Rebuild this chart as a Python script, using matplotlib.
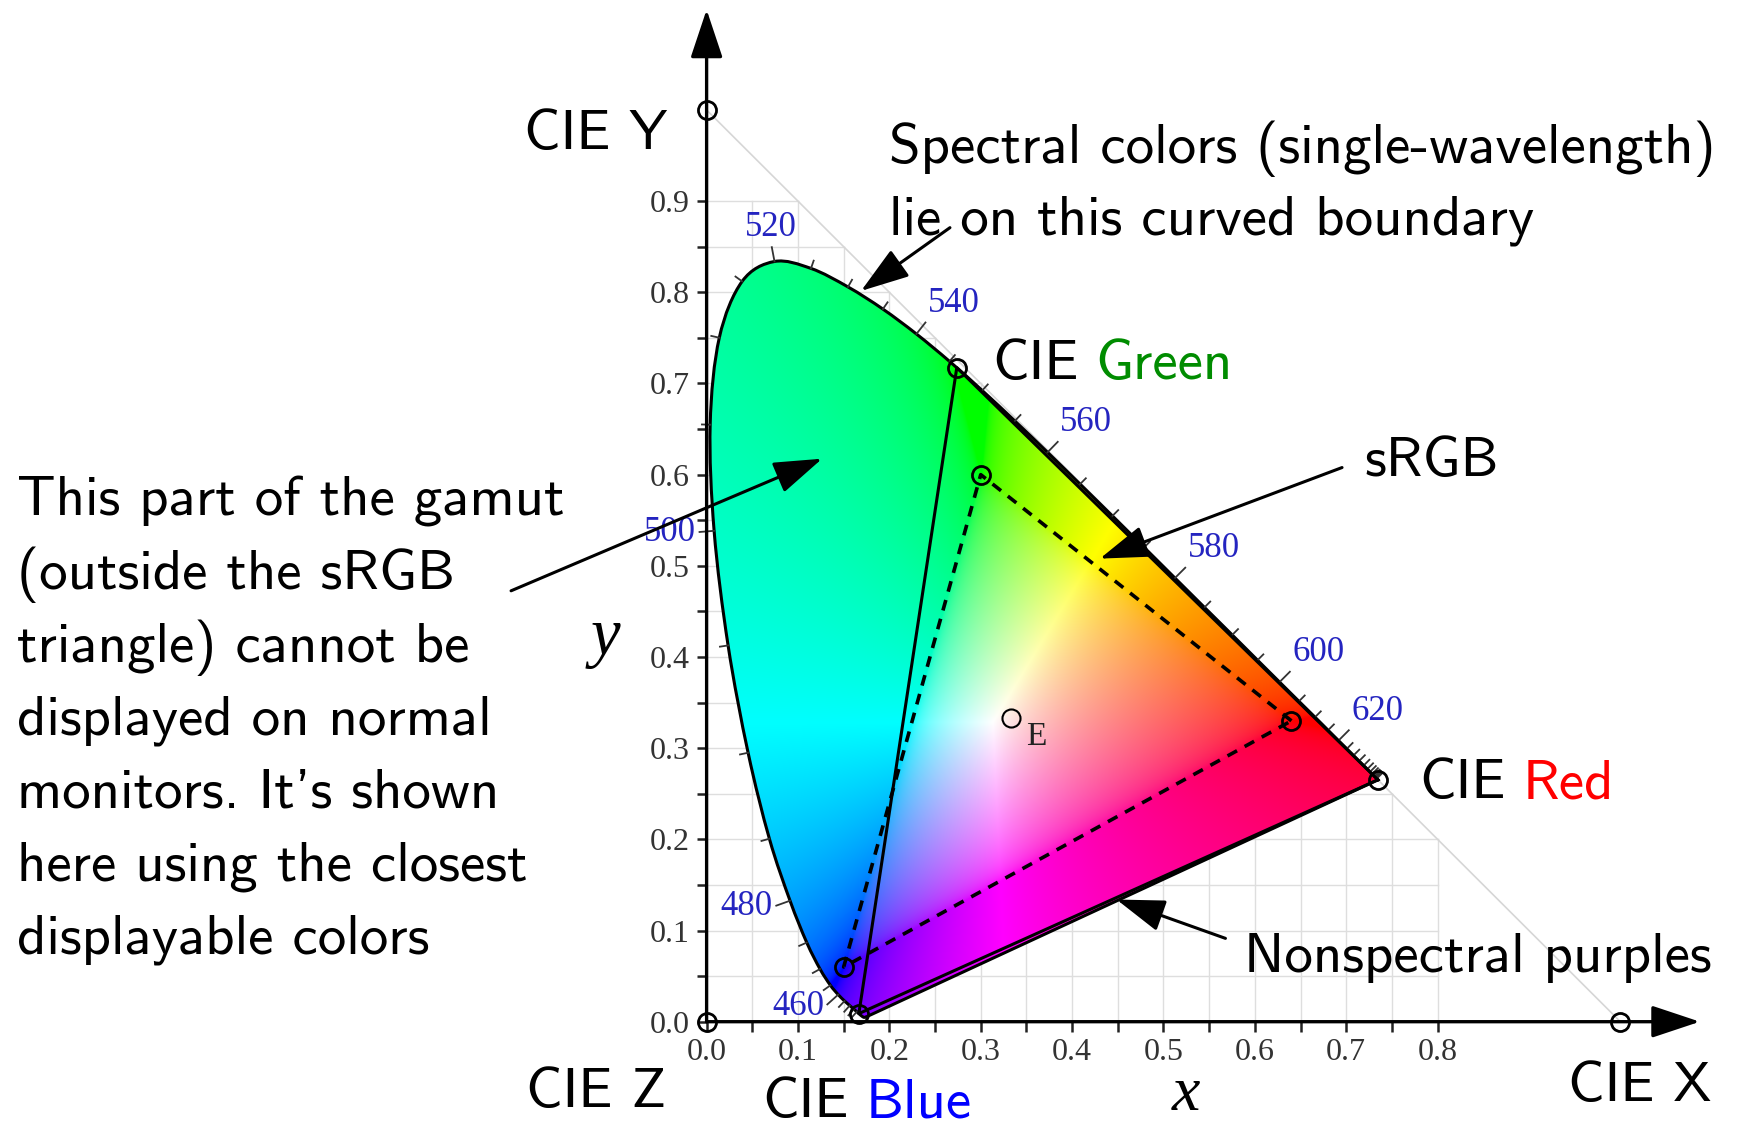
import numpy as np
import matplotlib.pyplot as plt
from matplotlib.path import Path
from matplotlib.patches import PathPatch

# CIE 1931 2-degree spectral locus, chromaticity x/y every 5 nm (380-700 nm)
wavelengths = np.arange(380, 705, 5)
locus_x = np.array([
    0.1741, 0.1740, 0.1738, 0.1736, 0.1733, 0.1730, 0.1726, 0.1721, 0.1714, 0.1703,
    0.1689, 0.1669, 0.1644, 0.1611, 0.1566, 0.1510, 0.1440, 0.1355, 0.1241, 0.1096,
    0.0913, 0.0687, 0.0454, 0.0235, 0.0082, 0.0039, 0.0139, 0.0389, 0.0743, 0.1142,
    0.1547, 0.1929, 0.2296, 0.2658, 0.3016, 0.3373, 0.3731, 0.4087, 0.4441, 0.4788,
    0.5125, 0.5448, 0.5752, 0.6029, 0.6270, 0.6482, 0.6658, 0.6801, 0.6915, 0.7006,
    0.7079, 0.7140, 0.7190, 0.7230, 0.7260, 0.7283, 0.7300, 0.7311, 0.7320, 0.7327,
    0.7334, 0.7340, 0.7344, 0.7346, 0.7347])
locus_y = np.array([
    0.0050, 0.0050, 0.0049, 0.0049, 0.0048, 0.0048, 0.0048, 0.0048, 0.0051, 0.0058,
    0.0069, 0.0086, 0.0109, 0.0138, 0.0177, 0.0227, 0.0297, 0.0399, 0.0578, 0.0868,
    0.1327, 0.2007, 0.2950, 0.4127, 0.5384, 0.6548, 0.7502, 0.8120, 0.8338, 0.8262,
    0.8059, 0.7816, 0.7543, 0.7243, 0.6923, 0.6589, 0.6245, 0.5896, 0.5547, 0.5202,
    0.4866, 0.4544, 0.4242, 0.3965, 0.3725, 0.3514, 0.3340, 0.3197, 0.3083, 0.2993,
    0.2920, 0.2859, 0.2809, 0.2770, 0.2740, 0.2717, 0.2700, 0.2689, 0.2680, 0.2673,
    0.2666, 0.2660, 0.2656, 0.2654, 0.2653])

label_wavelengths = [460, 480, 500, 520, 540, 560, 580, 600, 620]
tick_wavelengths = np.arange(440, 685, 5)

# primaries: red, green, blue
cie_rgb_x = [0.7347, 0.2738, 0.1666]
cie_rgb_y = [0.2653, 0.7174, 0.0089]
srgb_x = [0.64, 0.30, 0.15]
srgb_y = [0.33, 0.60, 0.06]
white_e = (1 / 3, 1 / 3)
# unit points of X, Y, Z
unit_x = [1.0, 0.0, 0.0]
unit_y = [0.0, 1.0, 0.0]

x_ticks = [0.0, 0.1, 0.2, 0.3, 0.4, 0.5, 0.6, 0.7, 0.8]
y_ticks = [0.0, 0.1, 0.2, 0.3, 0.4, 0.5, 0.6, 0.7, 0.8, 0.9]
x_minor = [0.05, 0.15, 0.25, 0.35, 0.45, 0.55, 0.65, 0.75]
y_minor = [0.05, 0.15, 0.25, 0.35, 0.45, 0.55, 0.65, 0.75, 0.85]

note_lines = ["This part of the gamut", "(outside the sRGB", "triangle) cannot be",
              "displayed on normal", "monitors. It's shown",
              "here using the closest", "displayable colors"]

SANS = 'cmss10'
plt.rcParams['font.family'] = 'Liberation Serif'

fig = plt.figure(figsize=(17.42, 11.25), dpi=100)
ax = fig.add_axes([0, 0, 1, 1])
ax.set_xlim(-0.7733, 1.1331)
ax.set_ylim(-0.1133, 1.1206)

# light grid under the X+Y<=1 diagonal
for g in np.arange(1, 17) * 0.05:
    ax.plot([g, g], [0, min(1 - g, 0.9)], color='#dedede', lw=1.0, zorder=0.5)
for g in np.arange(1, 19) * 0.05:
    ax.plot([0, min(1 - g, 0.8)], [g, g], color='#dedede', lw=1.0, zorder=0.5)
ax.plot([0, 1], [1, 0], color='#d6d6d6', lw=1.2, zorder=0.5)

# smooth closed outline through the locus samples
pts = np.column_stack([locus_x, locus_y])
n = len(pts)
verts = [pts[0]]
codes = [Path.MOVETO]
for i in range(n - 1):
    p0, p1, p2, p3 = pts[max(i - 1, 0)], pts[i], pts[i + 1], pts[min(i + 2, n - 1)]
    verts += [p1 + (p2 - p0) / 6, p2 - (p3 - p1) / 6, p2]
    codes += [Path.CURVE4] * 3
verts.append(pts[0])
codes.append(Path.CLOSEPOLY)
locus_path = Path(verts, codes)

# chromaticity colours: xyY (Y=1) -> linear sRGB, partly desaturated toward white,
# remaining negatives clipped, scaled to the brightest channel
gx, gy = np.meshgrid(np.linspace(0, 0.75, 751), np.linspace(0.0, 0.85, 851))
gys = np.maximum(gy, 1e-4)
xyz = np.stack([gx / gys, np.ones_like(gx), (1 - gx - gy) / gys])
m = np.array([[3.2406, -1.5372, -0.4986],
              [-0.9689, 1.8758, 0.0415],
              [0.0557, -0.2040, 1.0570]])
rgb = np.einsum('ij,jkl->kli', m, xyz)
rgb -= 0.5 * np.minimum(rgb.min(axis=-1, keepdims=True), 0)
rgb = np.clip(rgb, 0, None)
rgb /= np.maximum(rgb.max(axis=-1, keepdims=True), 1e-9)
rgb = np.where(rgb <= 0.0031308, 12.92 * rgb, 1.055 * rgb ** (1 / 2.4) - 0.055)
img = ax.imshow(np.clip(rgb, 0, 1), extent=(0, 0.75, 0, 0.85), origin='lower',
                interpolation='bilinear', zorder=1, aspect='auto')
clip = PathPatch(locus_path, transform=ax.transData, fc='none', ec='none')
ax.add_patch(clip)
img.set_clip_path(clip)
ax.add_patch(PathPatch(locus_path, fc='none', ec='black', lw=2.2, zorder=3))

# wavelength ticks and labels along the locus
tan = np.gradient(pts, axis=0)
tan /= np.maximum(np.linalg.norm(tan, axis=1, keepdims=True), 1e-9)
normal = np.column_stack([-tan[:, 1], tan[:, 0]])
for wl in tick_wavelengths:
    k = int(np.where(wavelengths == wl)[0][0])
    length = 0.016 if wl in label_wavelengths else 0.009
    p, nv = pts[k], normal[k]
    ax.plot([p[0], p[0] + nv[0] * length], [p[1], p[1] + nv[1] * length],
            color='#333333', lw=1.3, zorder=3)
    if wl in label_wavelengths:
        q = p + nv * 0.02
        ha = 'left' if nv[0] > 0.3 else ('right' if nv[0] < -0.3 else 'center')
        va = 'bottom' if nv[1] > 0.6 else 'center'
        ax.text(q[0], q[1], str(wl), ha=ha, va=va, fontsize=25, color='#2424c0', zorder=4)

# CIE RGB triangle and sRGB triangle
ax.plot(cie_rgb_x + cie_rgb_x[:1], cie_rgb_y + cie_rgb_y[:1], color='black', lw=2.2, zorder=4)
ax.plot(srgb_x + srgb_x[:1], srgb_y + srgb_y[:1], color='black', lw=2.6,
        ls=(0, (3, 2.4)), zorder=4)

mk = dict(ls='none', marker='o', ms=13, mfc='none', mec='black', mew=2.0, zorder=6)
ax.plot(cie_rgb_x, cie_rgb_y, **mk)
ax.plot(srgb_x, srgb_y, **mk)
ax.plot(unit_x, unit_y, **mk)
ax.plot([white_e[0]], [white_e[1]], **{**mk, 'mew': 1.5})
ax.text(0.361, 0.312, 'E', ha='center', va='center', fontsize=24, color='#222222', zorder=6)

# axes drawn as arrows from the origin; spines only carry the ticks
for side in ('top', 'right', 'left', 'bottom'):
    ax.spines[side].set_visible(False)
ax.spines['left'].set_position(('data', 0))
ax.spines['bottom'].set_position(('data', 0))
axis_arrow = dict(arrowstyle='-|>,head_length=1.5,head_width=0.5', mutation_scale=20,
                  lw=2.4, color='black', shrinkA=0, shrinkB=0)
ax.annotate('', xy=(1.087, 0), xytext=(0, 0), arrowprops=axis_arrow, zorder=5)
ax.annotate('', xy=(0, 1.11), xytext=(0, 0), arrowprops=axis_arrow, zorder=5)

ax.set_xticks(x_ticks, [f'{v:.1f}' for v in x_ticks])
ax.set_yticks(y_ticks, [f'{v:.1f}' for v in y_ticks])
ax.set_xticks(x_minor, minor=True)
ax.set_yticks(y_minor, minor=True)
ax.tick_params(which='both', direction='out', length=7, width=1.8, color='#222222',
               labelsize=23, labelcolor='#333333', pad=5)

ax.text(-0.1106, 0.402, 'y', fontsize=48, style='italic', ha='center', va='baseline')
ax.text(0.525, -0.097, 'x', fontsize=46, style='italic', ha='center', va='baseline')

# annotations
FS = 41
tk = dict(fontsize=FS, family=SANS, va='baseline', zorder=7)
for i, line in enumerate(note_lines):
    ax.text(-0.7545, 0.5547 - i * 0.0799, line, ha='left', **tk)
ax.text(-0.0433, 0.957, 'CIE Y', ha='right', **tk)
ax.text(-0.198, -0.094, 'CIE Z', ha='left', **tk)
ax.text(0.9424, -0.0875, 'CIE X', ha='left', **tk)
ax.text(0.1993, 0.942, 'Spectral colors (single-wavelength)', ha='left', **tk)
ax.text(0.1993, 0.863, 'lie on this curved boundary', ha='left', **tk)
ax.text(0.7195, 0.599, 'sRGB', ha='left', **tk)
ax.text(0.588, 0.0547, 'Nonspectral purples', ha='left', **tk)
for x0, y0, word, col in [(0.3125, 0.7046, 'Green', '#008c00'),
                          (0.78, 0.245, 'Red', '#ff0000'),
                          (0.0606, -0.105, 'Blue', '#0000ff')]:
    t = ax.text(x0, y0, 'CIE', ha='left', **tk)
    ax.annotate(word, xy=(1, 0), xycoords=t, xytext=(FS * 0.3, 0),
                textcoords='offset points', ha='left', va='bottom',
                fontsize=FS, family=SANS, color=col, zorder=7)

arrow = dict(arrowstyle='-|>,head_length=1.5,head_width=0.5', mutation_scale=20,
             lw=2.2, color='black', shrinkA=0, shrinkB=0)
for head, tail in [((0.169, 0.8015), (0.2663, 0.8709)),
                   ((0.4304, 0.5079), (0.6954, 0.6078)),
                   ((0.1264, 0.6175), (-0.214, 0.4726)),
                   ((0.4486, 0.134), (0.5678, 0.0914))]:
    ax.annotate('', xy=head, xytext=tail, arrowprops=arrow, zorder=7)

fig.savefig('out.png', dpi=100)
